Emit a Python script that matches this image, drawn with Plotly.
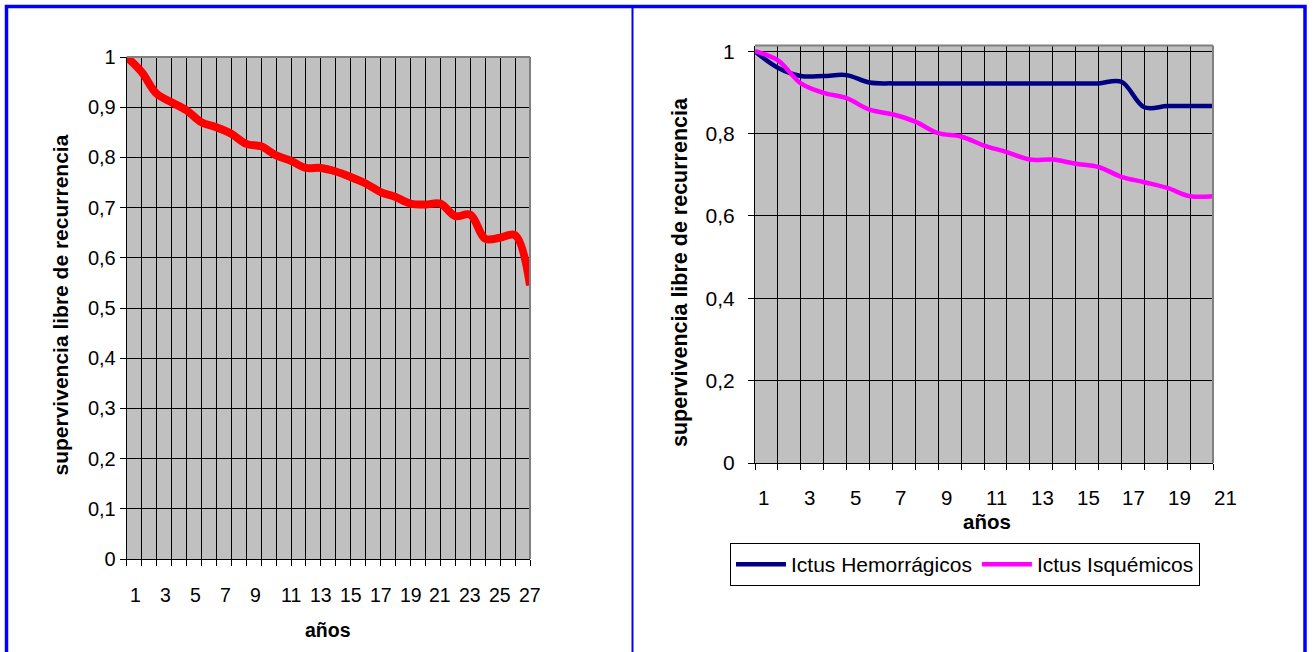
import plotly.graph_objects as go

W, H = 1314, 652
FONT = "Arial, Liberation Sans, sans-serif"

# ---- Left chart: recurrence-free survival, all patients ----
años_izq = list(range(1, 28))                 # category labels 1..27
cortes_izq = list(range(0, 28))               # year boundaries where the curve is sampled
superv_total = [1.000, 0.970, 0.927, 0.910, 0.894, 0.870, 0.860, 0.847, 0.827, 0.822,
                0.804, 0.793, 0.779, 0.779, 0.772, 0.761, 0.748, 0.731, 0.721, 0.708,
                0.706, 0.708, 0.683, 0.686, 0.638, 0.640, 0.645, 0.545]
ytick_izq = [0, 0.1, 0.2, 0.3, 0.4, 0.5, 0.6, 0.7, 0.8, 0.9, 1]
ytext_izq = ["0", "0,1", "0,2", "0,3", "0,4", "0,5", "0,6", "0,7", "0,8", "0,9", "1"]

# ---- Right chart: by stroke type ----
años_der = list(range(1, 22))                 # category labels 1..21
cortes_der = list(range(0, 21))
hemorragicos = [1.000, 0.960, 0.940, 0.940, 0.942, 0.924, 0.922, 0.922, 0.922, 0.922,
                0.922, 0.922, 0.922, 0.922, 0.922, 0.922, 0.926, 0.864, 0.867, 0.867, 0.867]
isquemicos = [1.000, 0.978, 0.922, 0.899, 0.886, 0.858, 0.847, 0.829, 0.801, 0.793,
              0.771, 0.755, 0.737, 0.737, 0.727, 0.719, 0.695, 0.682, 0.668, 0.648, 0.648]
ytick_der = [0, 0.2, 0.4, 0.6, 0.8, 1]
ytext_der = ["0", "0,2", "0,4", "0,6", "0,8", "1"]

titulo_y = "supervivencia libre de recurrencia"
titulo_x = "años"

# plot-area boxes in pixels (left, right, top, bottom)
box_izq = (126.7, 530.0, 57.0, 559.0)
box_der = (755.0, 1213.0, 45.5, 463.0)


def px_x(p):
    return p / W


def px_y(p):
    return 1 - p / H


def dom(box):
    l, r, t, b = box
    return [px_x(l), px_x(r)], [px_y(b), px_y(t)]


xd_izq, yd_izq = dom(box_izq)
xd_der, yd_der = dom(box_der)

fig = go.Figure()

fig.add_trace(go.Scatter(
    x=cortes_izq, y=superv_total, mode="lines",
    line=dict(color="#FF0000", width=8, shape="spline"),
    showlegend=False, xaxis="x", yaxis="y", hoverinfo="skip"))

fig.add_trace(go.Scatter(
    x=cortes_der, y=hemorragicos, mode="lines", name="Ictus Hemorrágicos",
    line=dict(color="#000080", width=4.5, shape="spline"),
    xaxis="x2", yaxis="y2"))
fig.add_trace(go.Scatter(
    x=cortes_der, y=isquemicos, mode="lines", name="Ictus Isquémicos",
    line=dict(color="#FF00FF", width=4.5, shape="spline"),
    xaxis="x2", yaxis="y2"))

common_x = dict(ticks="outside", ticklen=6, tickcolor="black", tickwidth=1,
                showticklabels=False, showgrid=True, gridcolor="black", gridwidth=1,
                showline=True, linecolor="black", linewidth=1, zeroline=False,
                fixedrange=True, automargin=False)
common_y = dict(ticks="outside", ticklen=6, tickcolor="black", tickwidth=1,
                showgrid=True, gridcolor="black", gridwidth=1,
                showline=True, linecolor="black", linewidth=1, zeroline=False,
                fixedrange=True, automargin=False)

fig.update_layout(
    width=W, height=H,
    margin=dict(l=0, r=0, t=0, b=0, pad=0, autoexpand=False),
    paper_bgcolor="white", plot_bgcolor="#C0C0C0",
    font=dict(family=FONT, color="black"),
    xaxis=dict(domain=xd_izq, range=[0, len(años_izq)], tickvals=cortes_izq,
               anchor="y", **common_x),
    yaxis=dict(domain=yd_izq, range=[0, 1], tickvals=ytick_izq, ticktext=ytext_izq,
               tickfont=dict(size=20, family=FONT), anchor="x", **common_y),
    xaxis2=dict(domain=xd_der, range=[0, len(años_der) - 1], tickvals=cortes_der,
                anchor="y2", **common_x),
    yaxis2=dict(domain=yd_der, range=[0, 1.014], tickvals=ytick_der, ticktext=ytext_der,
                tickfont=dict(size=21, family=FONT), ticklabelstandoff=9,
                anchor="x2", **common_y),
    showlegend=True,
    legend=dict(orientation="h", x=px_x(730), y=px_y(543), xanchor="left", yanchor="top",
                bgcolor="white", bordercolor="black", borderwidth=1,
                font=dict(size=21, family=FONT), itemwidth=50,
                tracegroupgap=0),
)

shapes = []
# grey plot-area border along the top and right edges
for xr, yr in (("x domain", "y domain"), ("x2 domain", "y2 domain")):
    shapes.append(dict(type="line", xref=xr, yref=yr, x0=0, x1=1, y0=1, y1=1,
                       line=dict(color="#808080", width=2), layer="above"))
    shapes.append(dict(type="line", xref=xr, yref=yr, x0=1, x1=1, y0=0, y1=1,
                       line=dict(color="#808080", width=2), layer="above"))
# blue outer frame and divider
shapes.append(dict(type="rect", xref="paper", yref="paper",
                   x0=px_x(6.5), x1=px_x(1305), y0=-0.05, y1=px_y(6.5),
                   line=dict(color="#0000FF", width=3.5)))
shapes.append(dict(type="line", xref="paper", yref="paper",
                   x0=px_x(632.5), x1=px_x(632.5), y0=-0.05, y1=px_y(6.5),
                   line=dict(color="#0000FF", width=2)))
fig.update_layout(shapes=shapes)

ann = []


def cat_labels(box, cats, n_cells, y_px, size, shift1, shift2):
    l, r, _, _ = box
    cell = (r - l) / n_cells
    for n in cats:
        if n % 2 == 0:
            continue
        txt = str(n)
        ann.append(dict(text=txt, xref="paper", yref="paper",
                        x=px_x(l + (n - 0.5) * cell), y=px_y(y_px),
                        xanchor="center", yanchor="middle", showarrow=False,
                        xshift=shift1 if len(txt) == 1 else shift2,
                        font=dict(size=size, family=FONT, color="black")))


cat_labels(box_izq, años_izq, len(años_izq), 595, 19.5, 1.5, 7.5)
cat_labels(box_der, años_der, len(años_der) - 1, 497, 20.5, -3, 1)

# axis titles
ann.append(dict(text="<b>%s</b>" % titulo_x, xref="paper", yref="paper",
                x=px_x(328), y=px_y(630), showarrow=False, xanchor="center", yanchor="middle",
                font=dict(size=19.5, family=FONT)))
ann.append(dict(text="<b>%s</b>" % titulo_x, xref="paper", yref="paper",
                x=px_x(987), y=px_y(521), showarrow=False, xanchor="center", yanchor="middle",
                font=dict(size=20.5, family=FONT)))
ann.append(dict(text="<b>%s</b>" % titulo_y, xref="paper", yref="paper",
                x=px_x(60), y=px_y(305.5), showarrow=False, textangle=-90,
                xanchor="center", yanchor="middle", font=dict(size=21, family=FONT)))
ann.append(dict(text="<b>%s</b>" % titulo_y, xref="paper", yref="paper",
                x=px_x(680), y=px_y(272), showarrow=False, textangle=-90,
                xanchor="center", yanchor="middle", font=dict(size=21.5, family=FONT)))
fig.update_layout(annotations=ann)

fig.write_html("out.html")
